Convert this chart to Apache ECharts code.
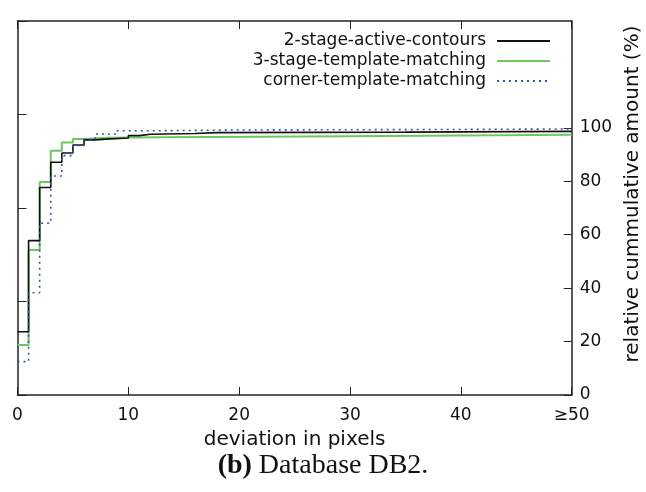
<!DOCTYPE html>
<html>
<head>
<meta charset="UTF-8">
<title>DB2</title>
<style>
    html,body{margin:0;padding:0;background:#fff;}
    #chart{width:646px;height:492px;}
</style>
</head>
<body>
<div id="chart"></div>
<script src="https://cdn.jsdelivr.net/npm/echarts@6/dist/echarts.min.js"></script>
<script>
    // step change points [deviation, cumulative %]
    let activeContours=[[0,23.7],[1,57.8],[2,77.7],[3,87.1],[4,90.6],[5,93.6],[6,95.5],[7,95.8],[8,96.2],[10,97.1],[11,97.6],[12,97.9],[16,98.2],[18,98.4],[35,98.7],[50,98.7]];
    let templateMatching=[[0,18.7],[1,54.3],[2,79.7],[3,91.4],[4,94.5],[5,95.8],[6,96.3],[8,96.5],[13,96.9],[30,97.4],[50,97.4]];
    let cornerMatching=[[0,12.5],[1,38.3],[2,64.3],[3,82.0],[4,89.6],[5,93.4],[6,95.7],[7,97.7],[9,98.9],[12,99.2],[20,99.4],[40,99.6],[50,99.6]];
    let names=['2-stage-active-contours','3-stage-template-matching','corner-template-matching'];
    let xTicks=[0,10,20,30,40,50];
    let yTicks=[0,20,40,60,80,100];

    let font='DejaVu Sans';
    let axisColor='#222';

    let chart=echarts.init(document.getElementById('chart'));
    let option={
        animation:false,
        grid:{left:17.5,right:74.3,top:21,bottom:97,outerBoundsMode:'none',containLabel:false},
        legend:{
            orient:'vertical',align:'right',right:95,top:31,padding:0,itemGap:0,
            itemWidth:53,itemHeight:14,
            itemStyle:{opacity:0,borderWidth:0},
            textStyle:{fontFamily:font,fontSize:17,color:'#111',lineHeight:20,padding:[0,6,0,0]},
            data:names
        },
        xAxis:[{
            type:'value',min:0,max:50,interval:10,
            name:'deviation in pixels',nameLocation:'middle',nameGap:35,
            nameTextStyle:{fontFamily:font,fontSize:20,color:'#111'},
            axisLine:{onZero:false,lineStyle:{color:axisColor,width:1.5}},
            axisTick:{inside:true,length:8,lineStyle:{color:axisColor,width:1}},
            axisLabel:{margin:12,fontFamily:font,fontSize:17,color:'#111',
                formatter:function(v){return v==50?'≥50':String(v);}},
            splitLine:{show:false}
        },{
            type:'value',position:'top',min:0,max:50,interval:10,
            axisLine:{onZero:false,lineStyle:{color:axisColor,width:1.5}},
            axisTick:{inside:true,length:8,lineStyle:{color:axisColor,width:1}},
            axisLabel:{show:false},splitLine:{show:false}
        }],
        yAxis:[{
            type:'value',position:'right',min:0,max:140,
            name:'relative cummulative amount (%)',nameLocation:'middle',nameGap:46,nameRotate:90,
            nameTextStyle:{fontFamily:font,fontSize:20,color:'#111',padding:[0,0,0,28]},
            axisLine:{show:true,onZero:false,lineStyle:{color:axisColor,width:1.5}},
            axisTick:{inside:true,length:8,customValues:yTicks,lineStyle:{color:axisColor,width:1}},
            axisLabel:{margin:8,customValues:yTicks,fontFamily:font,fontSize:17,color:'#111'},
            splitLine:{show:false}
        },{
            type:'value',position:'left',min:0,max:4,interval:1,
            axisLine:{show:true,onZero:false,lineStyle:{color:axisColor,width:1.5}},
            axisTick:{inside:true,length:9,lineStyle:{color:axisColor,width:1}},
            axisLabel:{show:false},splitLine:{show:false}
        }],
        series:[{
            name:names[0],type:'line',step:'end',symbol:'none',data:activeContours,
            lineStyle:{color:'#111',width:1.6},itemStyle:{color:'#111'},z:3
        },{
            name:names[1],type:'line',step:'end',symbol:'none',data:templateMatching,
            lineStyle:{color:'#6cc95c',width:2},itemStyle:{color:'#6cc95c'},z:2
        },{
            name:names[2],type:'line',step:'end',symbol:'none',data:cornerMatching,
            lineStyle:{color:'#3550b8',width:1.6,type:[2,4]},itemStyle:{color:'#3550b8'},z:4
        }],
        graphic:[{
            type:'text',left:'center',top:452,
            style:{
                text:'{b|(b)} Database DB2.',
                font:'28px "Liberation Serif"',fill:'#111',
                rich:{b:{fontFamily:'Liberation Serif',fontSize:28,fontWeight:'bold',fill:'#111'}}
            }
        }]
    };
    chart.setOption(option);
</script>
</body>
</html>
